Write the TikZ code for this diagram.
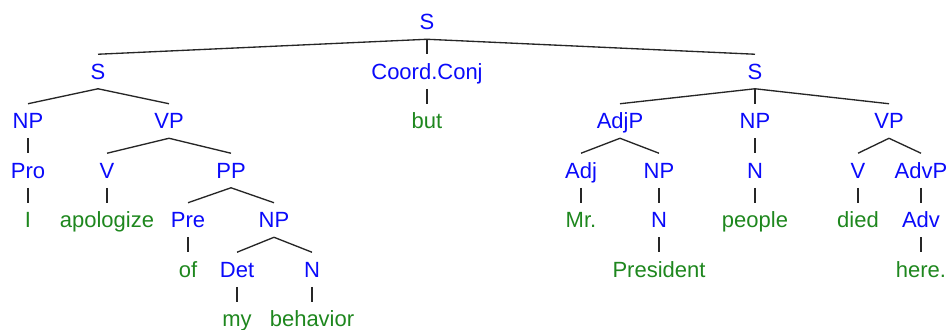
\documentclass[tikz,border=0pt]{standalone}
\usepackage{fontspec}
\setmainfont{Liberation Sans}
\usepackage{tikz}
\usetikzlibrary{positioning}
\usepackage{xcolor}
\definecolor{catblue}{RGB}{10,10,250}
\definecolor{wordgreen}{RGB}{30,135,30}

\begin{document}
\begin{tikzpicture}[
    x=0.75pt, y=-0.75pt,
    node distance=11.3pt,
    lab/.style={inner xsep=0pt, inner ysep=7pt, text height=11.5pt, text depth=0pt, font=\fontsize{16.5}{18}\selectfont},
    cat/.style={lab, text=catblue},
    word/.style={lab, text=wordgreen},
    branch/.style={line width=1pt, draw=black!85}
]
\useasboundingbox (0,0) rectangle (949,329);

% categories and words, row by row
\node[cat] (s0) at (427,22) {S};
\node[cat] (sL) at (98,71.5) {S};
\node[cat] (conj) at (427,71.5) {Coord.Conj};
\node[cat] (sR) at (755,71.5) {S};

\node[cat] (np1) at (28,121) {NP};
\node[cat] (vp1) at (169,121) {VP};
\node[word, below=of conj] (but) {but};
\node[cat] (adjp) at (620,121) {AdjP};
\node[cat, below=of sR] (np2) {NP};
\node[cat] (vp2) at (889,121) {VP};

\node[cat, below=of np1] (pro) {Pro};
\node[cat] (v1) at (107,170.5) {V};
\node[cat] (pp) at (231,170.5) {PP};
\node[cat] (adj) at (581,170.5) {Adj};
\node[cat] (np3) at (659,170.5) {NP};
\node[cat, below=of np2] (n2) {N};
\node[cat] (v2) at (858,170.5) {V};
\node[cat] (advp) at (921,170.5) {AdvP};

\node[word, below=of pro] (i) {I};
\node[word, below=of v1] (apol) {apologize};
\node[cat] (pre) at (188,220) {Pre};
\node[cat] (np4) at (274,220) {NP};
\node[word, below=of adj] (mr) {Mr.};
\node[cat, below=of np3] (n3) {N};
\node[word, below=of n2] (people) {people};
\node[word, below=of v2] (died) {died};
\node[cat, below=of advp] (adv) {Adv};

\node[word, below=of pre] (of) {of};
\node[cat] (det) at (237,269.5) {Det};
\node[cat] (n1) at (312,269.5) {N};
\node[word, below=of n3] (pres) {President};
\node[word, below=of adv] (here) {here.};

\node[word, below=of det] (my) {my};
\node[word, below=of n1] (behav) {behavior};

% branches
\draw[branch] (s0.south) -- (sL.north);
\draw[branch] (s0.south) -- (conj.north);
\draw[branch] (s0.south) -- (sR.north);
\draw[branch] (sL.south) -- (np1.north);
\draw[branch] (sL.south) -- (vp1.north);
\draw[branch] (conj.south) -- (but.north);
\draw[branch] (sR.south) -- (adjp.north);
\draw[branch] (sR.south) -- (np2.north);
\draw[branch] (sR.south) -- (vp2.north);
\draw[branch] (np1.south) -- (pro.north);
\draw[branch] (vp1.south) -- (v1.north);
\draw[branch] (vp1.south) -- (pp.north);
\draw[branch] (adjp.south) -- (adj.north);
\draw[branch] (adjp.south) -- (np3.north);
\draw[branch] (np2.south) -- (n2.north);
\draw[branch] (vp2.south) -- (v2.north);
\draw[branch] (vp2.south) -- (advp.north);
\draw[branch] (pro.south) -- (i.north);
\draw[branch] (v1.south) -- (apol.north);
\draw[branch] (pp.south) -- (pre.north);
\draw[branch] (pp.south) -- (np4.north);
\draw[branch] (adj.south) -- (mr.north);
\draw[branch] (np3.south) -- (n3.north);
\draw[branch] (n2.south) -- (people.north);
\draw[branch] (v2.south) -- (died.north);
\draw[branch] (advp.south) -- (adv.north);
\draw[branch] (pre.south) -- (of.north);
\draw[branch] (np4.south) -- (det.north);
\draw[branch] (np4.south) -- (n1.north);
\draw[branch] (n3.south) -- (pres.north);
\draw[branch] (adv.south) -- (here.north);
\draw[branch] (det.south) -- (my.north);
\draw[branch] (n1.south) -- (behav.north);
\end{tikzpicture}
\end{document}
